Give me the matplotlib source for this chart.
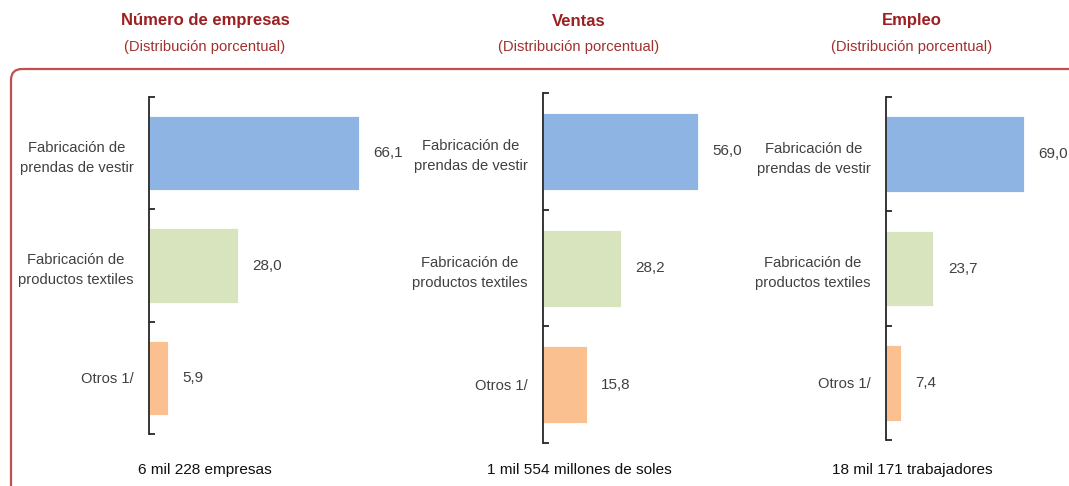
import matplotlib
matplotlib.use("Agg")
import matplotlib.pyplot as plt
from matplotlib import font_manager
from matplotlib.patches import FancyBboxPatch

# ---- data ----
categories = ["Fabricación de\nprendas de vestir", "Fabricación de\nproductos textiles", "Otros 1/"]
empresas = [66.1, 28.0, 5.9]
ventas = [56.0, 28.2, 15.8]
empleo = [69.0, 23.7, 7.4]
titles = ["Número de empresas", "Ventas", "Empleo"]
subtitle = "(Distribución porcentual)"
totals = ["6 mil 228 empresas", "1 mil 554 millones de soles", "18 mil 171 trabajadores"]
bar_colors = ["#8EB4E3", "#D7E4BD", "#FAC090"]

avail = {f.name for f in font_manager.fontManager.ttflist}
FONT = "Liberation Sans Narrow" if "Liberation Sans Narrow" in avail else "Liberation Sans"
plt.rcParams["font.family"] = [FONT, "DejaVu Sans"]
narrow = FONT.endswith("Narrow")
fs_lab = 12.5 if narrow else 10.6
fs_title = 14 if narrow else 12
text_col = "#404040"

W, H = 1069, 486
fig = plt.figure(figsize=(W / 100, H / 100), dpi=100)

# overlay axes in pixel units for frame and titles
ov = fig.add_axes([0, 0, 1, 1], zorder=0)
ov.set_xlim(0, W)
ov.set_ylim(H, 0)
ov.axis("off")
ov.add_patch(FancyBboxPatch((11, 69), 1100, 440,
                            boxstyle="round,pad=0,rounding_size=11",
                            fc="white", ec="#C0504D", lw=1.6))

# panel layout: spine x, top, bottom, px per unit, axes width (px), center x of titles
panels = [
    (149, 97, 434, 3.17, 260, 205, empresas),
    (543, 93, 443, 2.77, 260, 579, ventas),
    (886, 97, 440, 2.00, 183, 912, empleo),
]

for i, (sx, top, bot, scale, wpx, cx, vals) in enumerate(panels):
    ax = fig.add_axes([sx / W, 1 - bot / H, wpx / W, (bot - top) / H], zorder=1)
    ax.patch.set_alpha(0)
    y = list(range(len(categories)))
    ax.barh(y, vals, height=0.66, color=bar_colors, edgecolor="white", linewidth=0.6)
    ax.set_ylim(2.5, -0.5)
    ax.set_xlim(0, wpx / scale)
    for s in ["top", "right", "bottom"]:
        ax.spines[s].set_visible(False)
    ax.spines["left"].set_color("#262626")
    ax.spines["left"].set_linewidth(1.3)
    ax.set_xticks([])
    ax.set_yticks(y)
    ax.set_yticklabels(categories, fontsize=fs_lab, color=text_col,
                       multialignment="center", linespacing=1.55)
    ax.tick_params(axis="y", which="major", length=0, pad=11)
    ax.set_yticks([-0.5, 0.5, 1.5, 2.5], minor=True)
    ax.tick_params(axis="y", which="minor", direction="in", length=4.5, width=1.3, color="#262626")
    for yy, v in zip(y, vals):
        ax.annotate(f"{v:.1f}".replace(".", ","), (v, yy), xytext=(10.5, 0),
                    textcoords="offset points", va="center", ha="left",
                    fontsize=fs_lab + 0.4, color=text_col, annotation_clip=False)
    ov.text(cx, 21, titles[i], ha="center", va="center", fontsize=fs_title,
            fontweight="bold", color="#9C1F22")
    ov.text(cx, 47, subtitle, ha="center", va="center", fontsize=fs_lab,
            color="#A0302E")
    ov.text(cx, 470, totals[i], ha="center", va="center", fontsize=fs_lab + 0.5,
            color="#111111")

fig.savefig("out.png", dpi=100)
